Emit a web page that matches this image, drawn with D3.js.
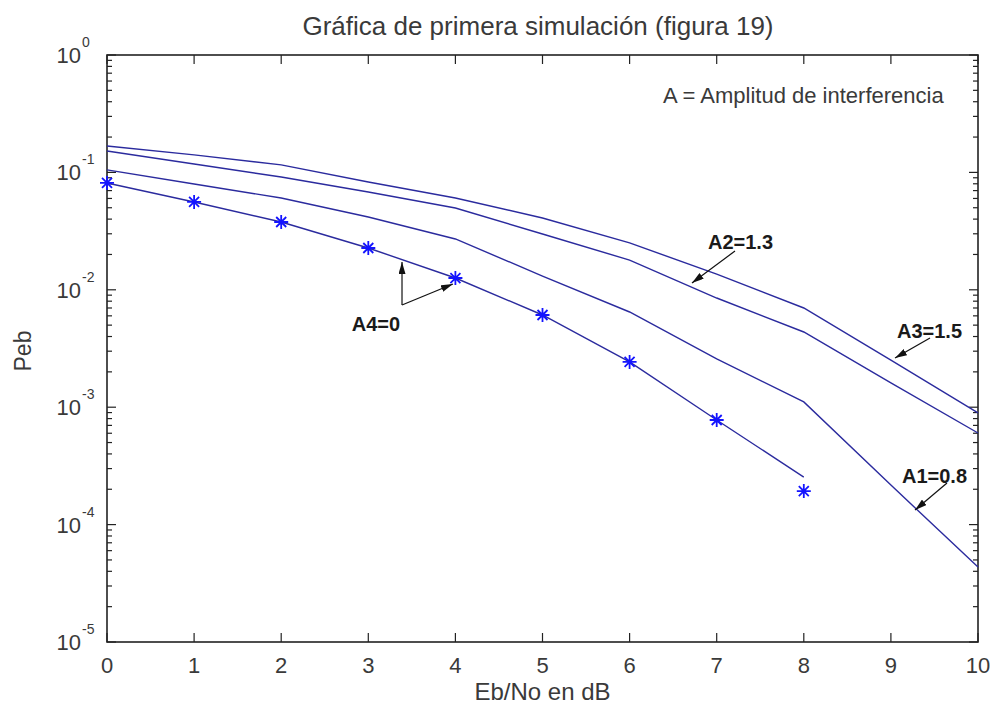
<!DOCTYPE html>
<html>
<head>
<meta charset="utf-8">
<script src="https://cdn.jsdelivr.net/npm/d3@7"></script>
<style>
body { margin: 0; background: #fff; }
text { font-family: "Liberation Sans", Arial, sans-serif; fill: #3a3a3a; }
</style>
</head>
<body>
<div id="chart"></div>
<script>
// data
var ebno = [0, 1, 2, 3, 4, 5, 6, 7, 8, 9, 10];
var pebA3 = [0.168, 0.141, 0.116, 0.0828, 0.0605, 0.0409, 0.0251, 0.0136, 0.0070, 0.00252, 0.000893];
var pebA2 = [0.152, 0.118, 0.0914, 0.0681, 0.0497, 0.0299, 0.0179, 0.00851, 0.00437, 0.00161, 0.000603];
var pebA1 = [0.105, 0.0797, 0.0605, 0.0417, 0.0271, 0.0131, 0.00647, 0.00258, 0.00111, 0.000217, 0.0000435];
var ebnoA4 = [0, 1, 2, 3, 4, 5, 6, 7, 8];
var pebA4 = [0.0813, 0.0560, 0.0378, 0.0227, 0.0126, 0.00610, 0.00243, 0.000778, 0.000254];
var simA4 = [0.0813, 0.0560, 0.0378, 0.0227, 0.0126, 0.00610, 0.00243, 0.000778, 0.000193];
var xTicks = [0, 1, 2, 3, 4, 5, 6, 7, 8, 9, 10];
var yExp = [0, -1, -2, -3, -4, -5];

var svgWidth = 994, svgHeight = 711;
var pLeft = 107, pRight = 978, pTop = 55, pBottom = 642;
var lineColour = "#2b2b9e", markColour = "#1414ff";

var svg = d3.select("#chart").append("svg").attr("width", svgWidth).attr("height", svgHeight);

var x = d3.scaleLinear().domain([0, 10]).range([pLeft, pRight]);
var y = d3.scaleLog().domain([1e-5, 1]).range([pBottom, pTop]);

// arrow head
svg.append("defs").append("marker")
	.attr("id", "head")
	.attr("viewBox", "0 0 12 7")
	.attr("refX", 12).attr("refY", 3.5)
	.attr("markerWidth", 12).attr("markerHeight", 7)
	.attr("markerUnits", "userSpaceOnUse")
	.attr("orient", "auto")
	.append("path").attr("d", "M0,0L12,3.5L0,7Z").attr("fill", "#111");

// minor + major ticks (matlab style, inside the box)
var minor = [];
yExp.forEach(function(e) {
	if (e > -5) for (var m = 2; m < 10; m++) minor.push(m * Math.pow(10, e - 1));
});
var g = svg.append("g");
minor.forEach(function(v) {
	g.append("line").attr("x1", pLeft).attr("x2", pLeft + 5).attr("y1", y(v)).attr("y2", y(v));
	g.append("line").attr("x1", pRight).attr("x2", pRight - 5).attr("y1", y(v)).attr("y2", y(v));
});
yExp.forEach(function(e) {
	var v = Math.pow(10, e);
	g.append("line").attr("x1", pLeft).attr("x2", pLeft + 9).attr("y1", y(v)).attr("y2", y(v));
	g.append("line").attr("x1", pRight).attr("x2", pRight - 9).attr("y1", y(v)).attr("y2", y(v));
});
xTicks.forEach(function(t) {
	g.append("line").attr("x1", x(t)).attr("x2", x(t)).attr("y1", pBottom).attr("y2", pBottom - 9);
	g.append("line").attr("x1", x(t)).attr("x2", x(t)).attr("y1", pTop).attr("y2", pTop + 9);
});
g.selectAll("line").attr("stroke", "#222").attr("stroke-width", 1.2);

// the box
svg.append("rect")
	.attr("x", pLeft).attr("y", pTop)
	.attr("width", pRight - pLeft).attr("height", pBottom - pTop)
	.attr("fill", "none").attr("stroke", "#222").attr("stroke-width", 1.6);

// tick labels
xTicks.forEach(function(t) {
	svg.append("text")
		.attr("x", x(t)).attr("y", pBottom + 31)
		.attr("text-anchor", "middle")
		.attr("font-size", 22)
		.text(t);
});
yExp.forEach(function(e) {
	var v = Math.pow(10, e);
	svg.append("text")
		.attr("x", 81).attr("y", y(v) + 8)
		.attr("text-anchor", "end")
		.attr("font-size", 22)
		.text("10");
	svg.append("text")
		.attr("x", 82).attr("y", y(v) - 8)
		.attr("font-size", 14)
		.text(e == 0 ? "0" : "-" + (-e));
});

// curves
var line = d3.line()
	.x(function(d) { return x(d[0]); })
	.y(function(d) { return y(d[1]); });

[pebA3, pebA2, pebA1].forEach(function(s) {
	svg.append("path")
		.attr("d", line(d3.zip(ebno, s)))
		.attr("fill", "none")
		.attr("stroke", lineColour)
		.attr("stroke-width", 1.4);
});
svg.append("path")
	.attr("d", line(d3.zip(ebnoA4, pebA4)))
	.attr("fill", "none")
	.attr("stroke", lineColour)
	.attr("stroke-width", 1.4);

// simulated points, '*' markers
var star = "M-7,0L7,0M0,-7L0,7M-5,-5L5,5M-5,5L5,-5";
d3.zip(ebnoA4, simA4).forEach(function(d) {
	svg.append("path")
		.attr("d", star)
		.attr("transform", "translate(" + x(d[0]) + "," + y(d[1]) + ")")
		.attr("stroke", markColour)
		.attr("stroke-width", 1.8)
		.attr("fill", "none");
});

// annotations
var notes = [
	{ text: "A4=0", at: [2.81, 0.00446], arrows: [[[3.387, 0.00743], [3.387, 0.01725]], [[3.387, 0.00743], [3.972, 0.0112]]] },
	{ text: "A2=1.3", at: [6.90, 0.0223], arrows: [[[7.21, 0.0214], [6.716, 0.01143]]] },
	{ text: "A3=1.5", at: [9.07, 0.00388], arrows: [[[9.449, 0.00388], [9.047, 0.00262]]] },
	{ text: "A1=0.8", at: [9.127, 0.000226], arrows: [[[9.644, 0.000226], [9.277, 0.000133]]] }
];
notes.forEach(function(n) {
	svg.append("text")
		.attr("x", x(n.at[0])).attr("y", y(n.at[1]))
		.attr("font-size", 20)
		.attr("font-weight", "bold")
		.style("fill", "#1a1a1a")
		.text(n.text);
	n.arrows.forEach(function(a) {
		svg.append("line")
			.attr("x1", x(a[0][0])).attr("y1", y(a[0][1]))
			.attr("x2", x(a[1][0])).attr("y2", y(a[1][1]))
			.attr("stroke", "#111")
			.attr("stroke-width", 1.2)
			.attr("marker-end", "url(#head)");
	});
});

svg.append("text")
	.attr("x", 663).attr("y", 103)
	.attr("font-size", 22)
	.text("A = Amplitud de interferencia");

// titles
svg.append("text")
	.attr("x", 538).attr("y", 35)
	.attr("text-anchor", "middle")
	.attr("font-size", 26)
	.text("Gráfica de primera simulación (figura 19)");
svg.append("text")
	.attr("x", (pLeft + pRight) / 2).attr("y", 700)
	.attr("text-anchor", "middle")
	.attr("font-size", 24)
	.text("Eb/No en dB");
svg.append("text")
	.attr("transform", "translate(31,351) rotate(-90)")
	.attr("text-anchor", "middle")
	.attr("font-size", 23)
	.text("Peb");
</script>
</body>
</html>
